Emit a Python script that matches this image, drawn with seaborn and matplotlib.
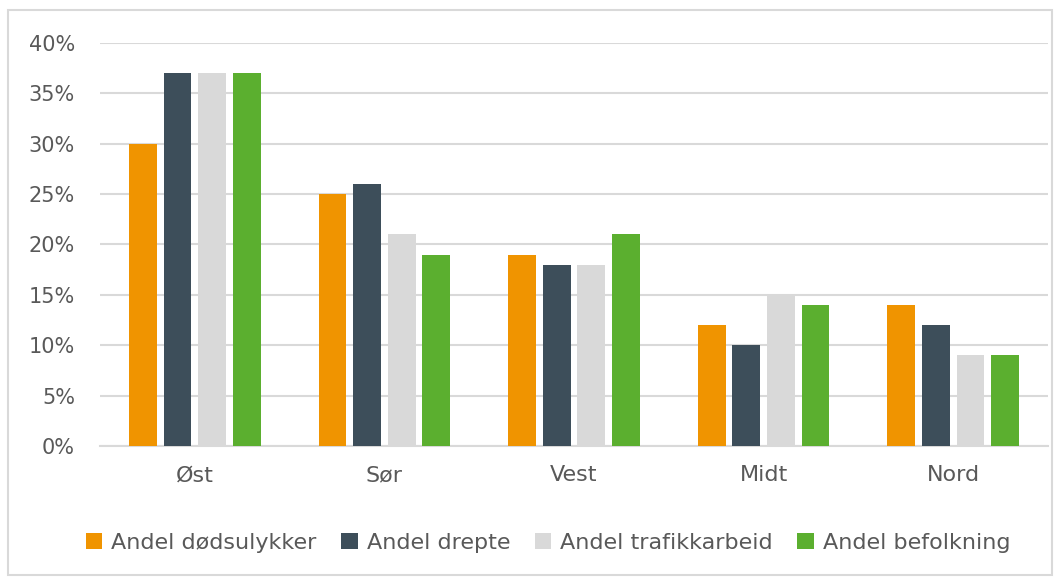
## Andel dødsulykker, drepte, trafikkarbeid og befolkning per region
import numpy as np
import pandas as pd
import seaborn as sns
import matplotlib.pyplot as plt
from matplotlib.patches import Rectangle

# data (percent)
regions = ["Øst", "Sør", "Vest", "Midt", "Nord"]
series_names = ["Andel dødsulykker", "Andel drepte", "Andel trafikkarbeid", "Andel befolkning"]
dodsulykker = [30, 25, 19, 12, 14]
drepte = [37, 26, 18, 10, 12]
trafikkarbeid = [37, 21, 18, 15, 9]
befolkning = [37, 19, 21, 14, 9]
colors = ["#F09400", "#3D4E5A", "#D9D9D9", "#5BAF2F"]
y_ticks = [0, 5, 10, 15, 20, 25, 30, 35, 40]

# long table for seaborn
rows = []
for name, values in zip(series_names, [dodsulykker, drepte, trafikkarbeid, befolkning]):
    for region, v in zip(regions, values):
        rows.append({"region": region, "serie": name, "verdi": v})
df = pd.DataFrame(rows)

sns.set_style("white")
plt.rcParams['font.family'] = ['DejaVu Sans']
text_color = "#595959"

fig = plt.figure(figsize=(10.61, 5.8), dpi=100)
ax = fig.add_axes([100 / 1061, 1 - 446 / 580, 948 / 1061, 403 / 580])

sns.barplot(data=df, x="region", y="verdi", hue="serie", order=regions,
            hue_order=series_names, palette=colors, width=0.73, gap=0.2,
            saturation=1, linewidth=0, ax=ax, zorder=3)

ax.set_ylim(0, 40)
ax.set_yticks(y_ticks)
ax.set_yticklabels([str(t) + "%" for t in y_ticks])
ax.yaxis.grid(True, color="#D9D9D9", linewidth=1.5, zorder=0)
ax.set_axisbelow(True)
for side in ["top", "right", "left"]:
    ax.spines[side].set_visible(False)
ax.spines["bottom"].set_color("#D9D9D9")
ax.spines["bottom"].set_linewidth(1.5)
ax.tick_params(axis="both", length=0, colors=text_color)
ax.tick_params(axis="x", pad=14, labelsize=16)
ax.tick_params(axis="y", pad=18, labelsize=15)
ax.set_xlabel("")
ax.set_ylabel("")

# legend below the plot
ax.legend(loc="center", bbox_to_anchor=(548 / 1061, 1 - 543 / 580),
          bbox_transform=fig.transFigure, ncol=4, frameon=False,
          fontsize=16, labelcolor=text_color, handlelength=0.75, handleheight=0.75,
          handletextpad=0.4, columnspacing=1.1)

# light frame around the whole chart
fig.patches.append(Rectangle((8 / 1061, 5 / 580), 1044 / 1061, 565 / 580,
                             transform=fig.transFigure, fill=False,
                             edgecolor="#D9D9D9", linewidth=1.5))

plt.savefig("out.png", dpi=100)
plt.close()
